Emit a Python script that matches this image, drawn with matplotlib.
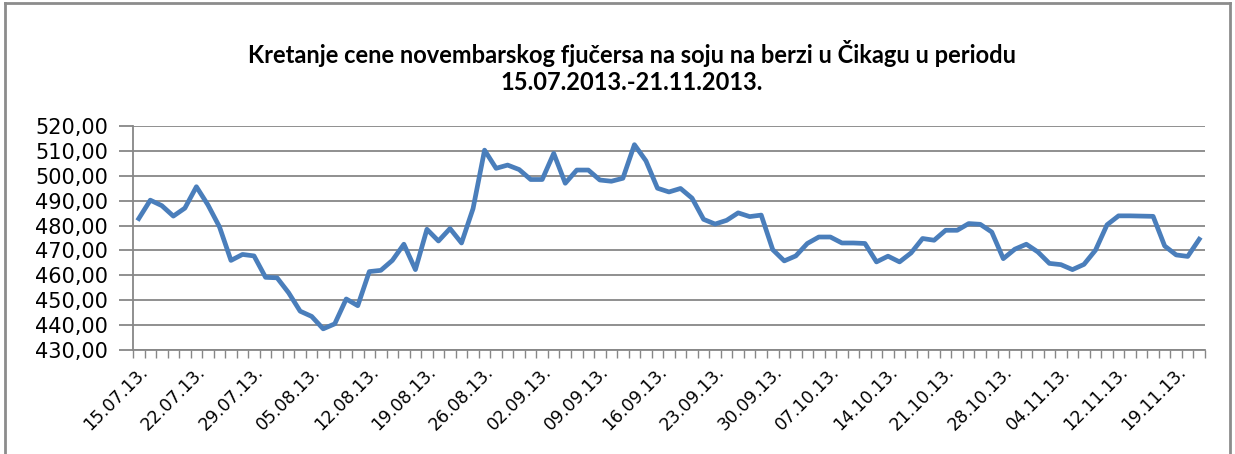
import numpy as np
import pandas as pd
import matplotlib
matplotlib.use("Agg")
import matplotlib.pyplot as plt
from matplotlib.lines import Line2D

# trgovački dani 15.07.2013 - 21.11.2013 (bez 11.11.)
dates = pd.bdate_range("2013-07-15", "2013-11-21").drop(pd.Timestamp("2013-11-11"))

prices = [
    482.8, 490.2, 488.0, 483.8, 487.0, 495.6, 488.3, 479.5, 466.0, 468.4,
    467.8, 459.2, 459.0, 453.0, 445.6, 443.5, 438.5, 440.5, 450.5, 447.8,
    461.5, 462.0, 466.0, 472.5, 462.3, 478.5, 473.8, 478.8, 473.0, 486.8,
    510.3, 503.0, 504.3, 502.5, 498.5, 498.5, 509.0, 497.0, 502.3, 502.3,
    498.3, 497.8, 499.0, 512.5, 506.0, 495.0, 493.5, 494.9, 491.0, 482.5,
    480.6, 482.1, 485.1, 483.6, 484.2, 470.3, 465.8, 467.8, 472.8, 475.4,
    475.4, 473.0, 473.0, 472.8, 465.4, 467.7, 465.4, 469.0, 474.8, 474.1,
    478.1, 478.1, 480.8, 480.5, 477.4, 466.7, 470.5, 472.5, 469.4, 464.8,
    464.3, 462.3, 464.4, 470.1, 480.3, 483.9, 483.9, 483.8, 483.7, 471.8,
    468.2, 467.6, 474.5,
]
labels = [d.strftime("%d.%m.%y.") for d in dates]
y_ticks = [430, 440, 450, 460, 470, 480, 490, 500, 510, 520]

title = ("Kretanje cene novembarskog fjučersa na soju na berzi u Čikagu u periodu\n"
         "15.07.2013.-21.11.2013.")

grid_col = "#878787"
frame_col = "#8c8c8c"

fig = plt.figure(figsize=(12.35, 4.54), dpi=100)
ax = fig.add_axes([133 / 1235, 1 - 350 / 454, 1072 / 1235, 224 / 454])

x = np.arange(len(prices))
ax.plot(x, prices, color="#4A7EBB", lw=3.4, solid_joinstyle="round")

ax.set_xlim(-0.5, len(prices) - 0.5)
ax.set_ylim(430, 520)
ax.set_yticks(y_ticks)
ax.set_yticklabels([f"{v:.2f}".replace(".", ",") for v in y_ticks], fontsize=15)
ax.yaxis.grid(True, color=grid_col, lw=1.3)
ax.set_axisbelow(True)

ax.set_xticks(x[::5])
ax.set_xticklabels(labels[::5], rotation=45, ha="right", va="top",
                   rotation_mode="anchor", fontsize=12.5)
ax.set_xticks(np.arange(len(prices) + 1) - 0.5, minor=True)
ax.tick_params(axis="x", which="major", length=0, pad=9)
ax.tick_params(axis="x", which="minor", length=6, color=grid_col, width=1)
ax.tick_params(axis="y", length=10, color=grid_col, width=1.3, pad=8)

for s in ["top", "right"]:
    ax.spines[s].set_visible(False)
for s in ["left", "bottom"]:
    ax.spines[s].set_color(grid_col)
    ax.spines[s].set_linewidth(1.3)

fig.text(632 / 1235, 1 - 40 / 454, title, ha="center", va="top",
         fontsize=17, fontweight="bold", family="Lato", linespacing=1.2)

# okvir grafikona
fig.add_artist(Line2D([5 / 1235, 5 / 1235], [0, 1 - 3 / 454], color=frame_col, lw=2))
fig.add_artist(Line2D([5 / 1235, 1230 / 1235], [1 - 3 / 454, 1 - 3 / 454], color=frame_col, lw=2))
fig.add_artist(Line2D([1230 / 1235, 1230 / 1235], [1 - 3 / 454, 0], color=frame_col, lw=2))

fig.savefig("out.png", dpi=100)
